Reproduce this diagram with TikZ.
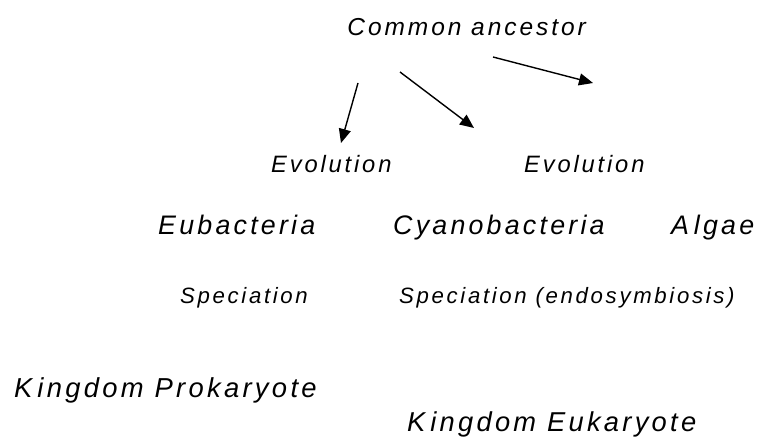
\documentclass[tikz,border=0pt]{standalone}
\usepackage{fontspec}
\setmainfont{Liberation Sans}[LetterSpace=12]
\usetikzlibrary{arrows.meta}
\begin{document}
\begin{tikzpicture}[x=1pt,y=-1pt,
  lbl/.style={anchor=base west,inner sep=0pt},
  sz/.style={font=\itshape\fontsize{#1}{#1}\selectfont},
  arr/.style={-{Triangle[length=14pt,width=12pt]},line width=1.4pt}]
\useasboundingbox (0,0) rectangle (759,438);
\node[lbl,anchor=base east,sz=24.5] (ca) at (586,36) {Common ancestor};
\node[lbl,sz=23.7] (ev1) at (271,173) {Evolution};
\node[lbl,sz=23.7] (ev2) at (524,173) {Evolution};
\node[lbl,sz=26.8] (eub) at (158,234) {Eubacteria};
\node[lbl,sz=26.8] (cya) at (393,234) {Cyanobacteria};
\node[lbl,sz=26.8] (alg) at (671,234) {A\hspace{0.18em}lgae};
\node[lbl,sz=22.2] (sp1) at (180,303) {Speciation};
\node[lbl,sz=22.2] (sp2) at (399,303) {Speciation (endosymbiosis)};
\node[lbl,sz=27.4] (kp) at (14,397) {K\hspace{0.18em}ingdom Prokaryote};
\node[lbl,sz=27.3] (ke) at (407,431) {K\hspace{0.18em}ingdom Eukaryote};
\coordinate (a1s) at (358,83);
\coordinate (a1e) at (341,143);
\coordinate (a2s) at (400,72);
\coordinate (a2e) at (474,128);
\coordinate (a3s) at (493,57);
\coordinate (a3e) at (593,83);
\draw[arr] (a1s) -- (a1e);
\draw[arr] (a2s) -- (a2e);
\draw[arr] (a3s) -- (a3e);
\end{tikzpicture}
\end{document}
